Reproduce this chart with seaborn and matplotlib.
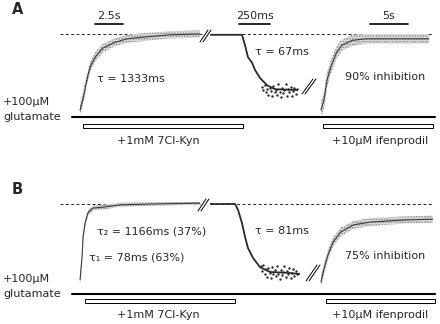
import matplotlib
matplotlib.use("Agg")
import matplotlib.pyplot as plt
from matplotlib.patches import Rectangle
import seaborn as sns

# ======================
# DATA (current normalised to control = 1)
# ======================

# panel A, kynurenate on (s)
a_on_t = [0, 0.25, 0.6, 0.9, 1.35, 2.0, 3.0, 4.2, 5.6, 8.0, 10.7]
a_on_i = [0.05, 0.18, 0.42, 0.59, 0.71, 0.82, 0.89, 0.94, 0.96, 0.99, 1.0]
a_on_sd = [0.09, 0.08, 0.07, 0.065, 0.06, 0.055, 0.05, 0.05, 0.05, 0.045, 0.045]
# panel A, kynurenate off (ms)
a_off_t = [0, 242, 258, 282, 306, 339, 363, 403, 459, 524, 701]
a_off_i = [0.99, 0.99, 0.99, 0.86, 0.71, 0.64, 0.55, 0.45, 0.36, 0.31, 0.30]
a_off_dots_t = [420, 430, 440, 450, 460, 470, 480, 490, 500, 510, 520, 530, 540, 550,
                560, 570, 580, 590, 600, 610, 620, 630, 640, 650, 660, 670, 680, 690, 700]
a_off_dots_i = [0.34, 0.30, 0.36, 0.27, 0.31, 0.24, 0.33, 0.29, 0.22, 0.35, 0.27, 0.30, 0.24, 0.37,
                0.28, 0.21, 0.32, 0.26, 0.30, 0.38, 0.23, 0.31, 0.27, 0.34, 0.22, 0.29, 0.33, 0.25, 0.31]
# panel A, ifenprodil (s)
a_if_t = [0, 0.4, 0.8, 1.3, 2.0, 2.75, 4.1, 5.9, 8.5, 14.2]
a_if_i = [0.05, 0.175, 0.425, 0.59, 0.76, 0.86, 0.92, 0.94, 0.94, 0.94]
a_if_sd = [0.12, 0.11, 0.10, 0.09, 0.08, 0.07, 0.07, 0.06, 0.06, 0.06]

# panel B
b_on_t = [0, 0.18, 0.27, 0.45, 0.71, 1.16, 2.05, 3.57, 6.52, 10.7]
b_on_i = [0.05, 0.34, 0.59, 0.76, 0.89, 0.95, 0.96, 0.99, 1.0, 1.01]
b_on_sd = [0.06, 0.05, 0.045, 0.04, 0.035, 0.03, 0.03, 0.025, 0.02, 0.02]
b_off_t = [0, 202, 226, 258, 282, 306, 347, 403, 484, 621, 725]
b_off_i = [1.0, 1.0, 0.925, 0.76, 0.59, 0.45, 0.325, 0.21, 0.15, 0.14, 0.125]
b_off_dots_t = [410, 420, 430, 440, 450, 460, 470, 480, 490, 500, 510, 520, 530, 540, 550,
                560, 570, 580, 590, 600, 610, 620, 630, 640, 650, 660, 670, 680, 690, 700]
b_off_dots_i = [0.22, 0.16, 0.24, 0.12, 0.19, 0.09, 0.20, 0.14, 0.08, 0.21, 0.13, 0.17, 0.10, 0.23,
                0.12, 0.06, 0.18, 0.11, 0.15, 0.22, 0.09, 0.16, 0.12, 0.20, 0.07, 0.14, 0.19, 0.10, 0.16, 0.13]
b_if_t = [0, 0.4, 0.9, 1.6, 2.6, 4.3, 6.6, 10.9, 14.7]
b_if_i = [0.025, 0.19, 0.36, 0.525, 0.65, 0.74, 0.775, 0.8, 0.81]
b_if_sd = [0.08, 0.07, 0.065, 0.06, 0.055, 0.05, 0.05, 0.045, 0.045]

# ======================
# LAYOUT
# ======================
W, H = 440, 324
sns.set_theme(style="white")
plt.rcParams['font.family'] = ['DejaVu Sans']
plt.rcParams['hatch.linewidth'] = 0.7
fs = 8

fig = plt.figure(figsize=(4.4, 3.24), dpi=100)

def box(x0, x1, ytop, ybot):
    return [x0 / W, 1 - ybot / H, (x1 - x0) / W, (ybot - ytop) / H]

fit_col = '#3a3a3a'

def slow_trace(ax, t, i, sd):
    lo = [a - b for a, b in zip(i, sd)]
    hi = [a + b for a, b in zip(i, sd)]
    # grey noisy record shown as a stippled band
    ax.fill_between(t, lo, hi, facecolor='#dadada', edgecolor='#858585', hatch='......',
                    lw=0, zorder=2)
    sns.lineplot(x=t, y=i, ax=ax, color=fit_col, lw=0.8, zorder=3)

def fast_trace(ax, t, i, dt, di):
    sns.lineplot(x=t, y=i, ax=ax, color='#2a2a2a', lw=1.3, zorder=3)
    sns.scatterplot(x=dt, y=di, ax=ax, color='#2a2a2a', s=3, linewidth=0, zorder=3)

def seg_axes(x0, x1, ybot, xlim):
    ax = fig.add_axes(box(x0, x1, ybot - 100, ybot))
    ax.set_xlim(*xlim)
    ax.set_ylim(0, 1.25)
    ax.axhline(1.0, color='#222222', lw=0.7, ls=(0, (3, 2.5)), zorder=1)
    ax.axis('off')
    return ax

def scalebar(ax, t0, t1, label):
    ax.plot([t0, t1], [1.125, 1.125], color='black', lw=1.2, clip_on=False)
    ax.text((t0 + t1) / 2, 1.22, label, ha='center', va='center', fontsize=fs, clip_on=False)

xl1 = (-1.79, 10.98)
xl2 = (0, 725)
xl3 = (-2.76, 14.74)

# panel A traces (baseline pixel row 114)
ax = seg_axes(60, 203, 114, xl1)
slow_trace(ax, a_on_t, a_on_i, a_on_sd)
scalebar(ax, 1.35, 3.85, '2.5s')
ax = seg_axes(210, 300, 114, xl2)
fast_trace(ax, a_off_t, a_off_i, a_off_dots_t, a_off_dots_i)
scalebar(ax, 234, 484, '250ms')
ax = seg_axes(300, 433, 114, xl3)
slow_trace(ax, a_if_t, a_if_i, a_if_sd)
scalebar(ax, 6.45, 11.45, '5s')

# panel B traces (baseline pixel row 284)
ax = seg_axes(60, 203, 284, xl1)
slow_trace(ax, b_on_t, b_on_i, b_on_sd)
ax = seg_axes(210, 300, 284, xl2)
fast_trace(ax, b_off_t, b_off_i, b_off_dots_t, b_off_dots_i)
ax = seg_axes(300, 433, 284, xl3)
slow_trace(ax, b_if_t, b_if_i, b_if_sd)

# overlay for labels, bars and break marks
ov = fig.add_axes([0, 0, 1, 1], zorder=5)
ov.set_xlim(0, W)
ov.set_ylim(H, 0)
ov.axis('off')
ov.patch.set_alpha(0)

def brk(x0, y0, x1, y1):
    for dx in (0, 3):
        ov.plot([x0 + dx, x1 + dx], [y0, y1], color='white', lw=2.2, solid_capstyle='butt')
    for dx in (0, 3):
        ov.plot([x0 + dx, x1 + dx], [y0, y1], color='black', lw=0.7)

panels = [
    dict(letter='A', ly=10, glu=117, bar=126, lab=141, kyn=(83, 243), ifen=(323, 433),
         brk1=(200, 42, 208, 30), brk2=(302, 94, 313, 79),
         texts=[('τ = 1333ms', 97, 79), ('τ = 67ms', 255, 52), ('90% inhibition', 345, 77)]),
    dict(letter='B', ly=189, glu=294, bar=301, lab=315, kyn=(85, 235), ifen=(326, 435),
         brk1=(198, 211, 206, 199), brk2=(306, 281, 317, 265),
         texts=[('τ₂ = 1166ms (37%)', 97, 231), ('τ₁ = 78ms (63%)', 89, 257),
                ('τ = 81ms', 255, 231), ('75% inhibition', 345, 256)]),
]

for p in panels:
    ov.text(12, p['ly'], p['letter'], fontsize=10.5, fontweight='bold', va='center', ha='left')
    ov.text(3, p['glu'] - 15, '+100μM', fontsize=fs, va='center', ha='left')
    ov.text(3, p['glu'], 'glutamate', fontsize=fs, va='center', ha='left')
    ov.plot([72, 435], [p['glu'], p['glu']], color='black', lw=1.5)
    for (x0, x1), lab, cx in [(p['kyn'], '+1mM 7Cl-Kyn', 158), (p['ifen'], '+10μM ifenprodil', 380)]:
        ov.add_patch(Rectangle((x0, p['bar'] - 2), x1 - x0, 4, fill=False, ec='black', lw=0.7))
        ov.text(cx, p['lab'], lab, fontsize=fs, ha='center', va='center')
    brk(*p['brk1'])
    brk(*p['brk2'])
    for s, x, y in p['texts']:
        ov.text(x, y, s, fontsize=fs, ha='left', va='center')

fig.savefig('out.png', dpi=100)
